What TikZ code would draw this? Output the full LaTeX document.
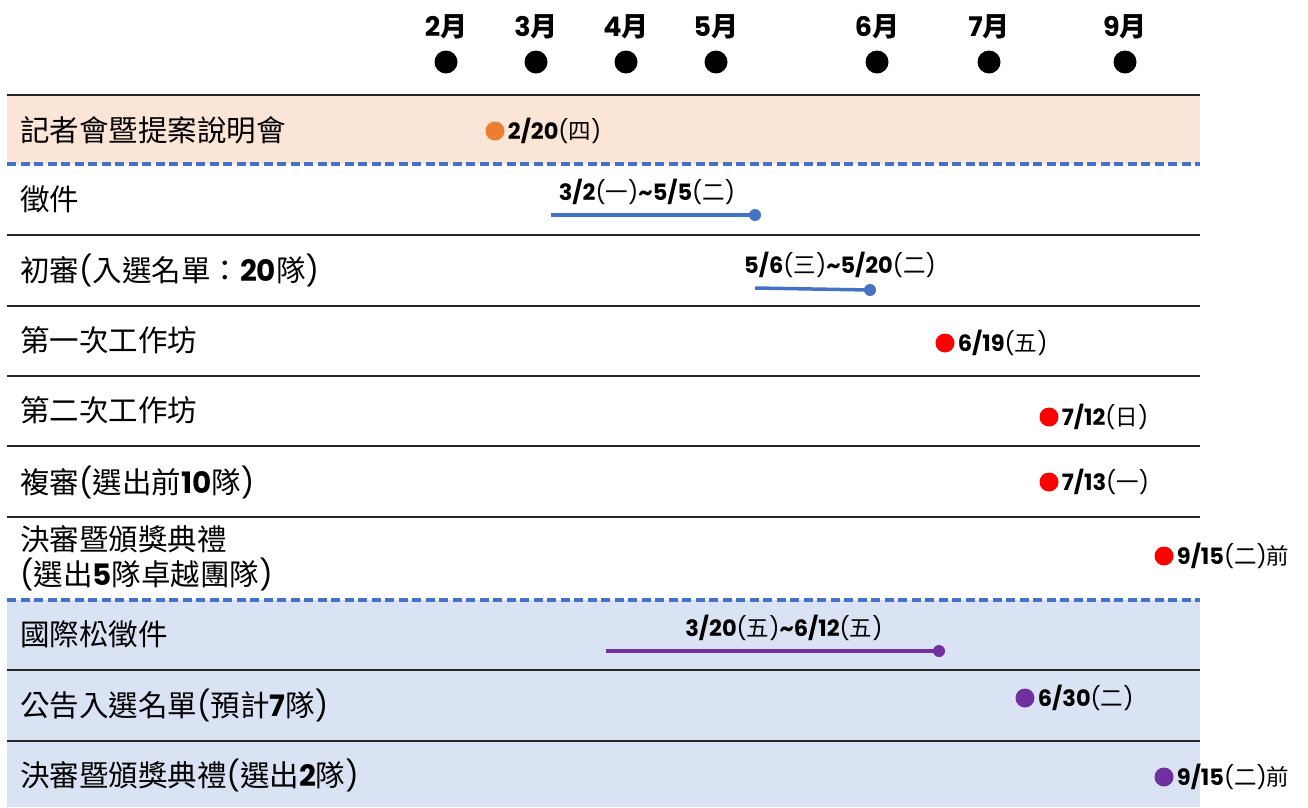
\documentclass[tikz,border=0pt]{standalone}
\usepackage{fontspec}
\setmainfont{Poppins}
\newfontfamily\cjk{Noto Sans CJK TC}
\newcommand\zh[1]{{\cjk #1}}
\newcommand\nb[1]{{\bfseries #1}}
\definecolor{peach}{HTML}{FBE5D6}
\definecolor{paleblue}{HTML}{DAE3F3}
\definecolor{dashblue}{HTML}{4472C4}
\definecolor{dotorange}{HTML}{ED7D31}
\definecolor{dotred}{HTML}{FF0000}
\definecolor{dotpurple}{HTML}{7030A0}
\definecolor{rulegray}{HTML}{262626}
\tikzset{
  monthlabel/.style={font=\bfseries\fontsize{27}{30}\selectfont, inner sep=0pt},
  monthdot/.style={circle, fill=black, minimum size=23pt, inner sep=0pt},
  rowlabel/.style={anchor=west, font=\fontsize{29.5}{35}\selectfont, inner sep=0pt, align=left},
  datelabel/.style={font=\fontsize{22.5}{26}\selectfont, inner sep=0pt},
  evdot/.style={circle, minimum size=19pt, inner sep=0pt},
  enddot/.style={circle, minimum size=12pt, inner sep=0pt},
  rangeline/.style={line width=3.5pt},
  rowrule/.style={draw=rulegray, line width=2pt},
  bandrule/.style={draw=dashblue, line width=3.5pt, dash pattern=on 9pt off 4.5pt},
}
\begin{document}
\begin{tikzpicture}[x=1pt,y=-1pt]
\useasboundingbox (0,0) rectangle (1308,807);
% bands
\fill[peach] (7,95) rectangle (1200,164);
\fill[paleblue] (7,600) rectangle (1200,807);
% rules
\foreach \yy in {95,235,306,376,446,517,670,741}
  \draw[rowrule] (7,\yy) -- (1200,\yy);
\foreach \yy in {164,600}
  \draw[bandrule] (7,\yy) -- (1200,\yy);
% months
\node[monthlabel] (m2) at (446,27) {2\zh{月}};
\node[monthlabel] (m3) at (536,27) {3\zh{月}};
\node[monthlabel] (m4) at (626,27) {4\zh{月}};
\node[monthlabel] (m5) at (716,27) {5\zh{月}};
\node[monthlabel] (m6) at (877,27) {6\zh{月}};
\node[monthlabel] (m7) at (989,27) {7\zh{月}};
\node[monthlabel] (m9) at (1125,27) {9\zh{月}};
\node[monthdot] (d2) at (446,62) {};
\node[monthdot] (d3) at (536,62) {};
\node[monthdot] (d4) at (626,62) {};
\node[monthdot] (d5) at (716,62) {};
\node[monthdot] (d6) at (877,62) {};
\node[monthdot] (d7) at (989,62) {};
\node[monthdot] (d9) at (1125,62) {};
% row labels
\node[rowlabel] (r1) at (20,130) {\zh{記者會暨提案說明會}};
\node[rowlabel] (r2) at (20,199) {\zh{徵件}};
\node[rowlabel] (r3) at (20,270) {\zh{初審}(\zh{入選名單：}\nb{20}\zh{隊})};
\node[rowlabel] (r4) at (20,340) {\zh{第一次工作坊}};
\node[rowlabel] (r5) at (20,410) {\zh{第二次工作坊}};
\node[rowlabel] (r6) at (20,482) {\zh{複審}(\zh{選出前}\nb{10}\zh{隊})};
\node[rowlabel] (r7) at (20,558) {\zh{決審暨頒獎典禮}\\(\zh{選出}\nb{5}\zh{隊卓越團隊})};
\node[rowlabel] (r8) at (20,634) {\zh{國際松徵件}};
\node[rowlabel] (r9) at (20,705) {\zh{公告入選名單}(\zh{預計}\nb{7}\zh{隊})};
\node[rowlabel] (r10) at (20,775) {\zh{決審暨頒獎典禮}(\zh{選出}\nb{2}\zh{隊})};
% row 1 event
\node[evdot, fill=dotorange] (e1) at (495,131) {};
\node[datelabel, anchor=west] (t1) at ([xshift=3pt]e1.east) {\nb{2/20}(\zh{四})};
% row 2 range
\coordinate (s2) at (551,215);
\node[enddot, fill=dashblue] (f2) at (755,215) {};
\draw[rangeline, dashblue] (s2) -- (f2.center);
\node[datelabel] (t2) at (647,192) {\nb{3/2}(\zh{一})\nb{\textasciitilde 5/5}(\zh{二})};
% row 3 range
\coordinate (s3) at (755,288);
\node[enddot, fill=dashblue] (f3) at (870,290) {};
\draw[rangeline, dashblue] (s3) -- (f3.center);
\node[datelabel] (t3) at (840,265) {\nb{5/6}(\zh{三})\nb{\textasciitilde 5/20}(\zh{二})};
% rows 4-7 events
\node[evdot, fill=dotred] (e4) at (945,343) {};
\node[datelabel, anchor=west] (t4) at ([xshift=3pt]e4.east) {\nb{6/19}(\zh{五})};
\node[evdot, fill=dotred] (e5) at (1049,417) {};
\node[datelabel, anchor=west] (t5) at ([xshift=3pt]e5.east) {\nb{7/12}(\zh{日})};
\node[evdot, fill=dotred] (e6) at (1049,482) {};
\node[datelabel, anchor=west] (t6) at ([xshift=3pt]e6.east) {\nb{7/13}(\zh{一})};
\node[evdot, fill=dotred] (e7) at (1164,556) {};
\node[datelabel, anchor=west] (t7) at ([xshift=3pt]e7.east) {\nb{9/15}(\zh{二})\zh{前}};
% row 8 range
\coordinate (s8) at (606,651);
\node[enddot, fill=dotpurple] (f8) at (939,651) {};
\draw[rangeline, dotpurple] (s8) -- (f8.center);
\node[datelabel] (t8) at (784,628) {\nb{3/20}(\zh{五})\nb{\textasciitilde 6/12}(\zh{五})};
% rows 9-10 events
\node[evdot, fill=dotpurple] (e9) at (1025,698) {};
\node[datelabel, anchor=west] (t9) at ([xshift=3pt]e9.east) {\nb{6/30}(\zh{二})};
\node[evdot, fill=dotpurple] (e10) at (1164,777) {};
\node[datelabel, anchor=west] (t10) at ([xshift=3pt]e10.east) {\nb{9/15}(\zh{二})\zh{前}};
\end{tikzpicture}
\end{document}
